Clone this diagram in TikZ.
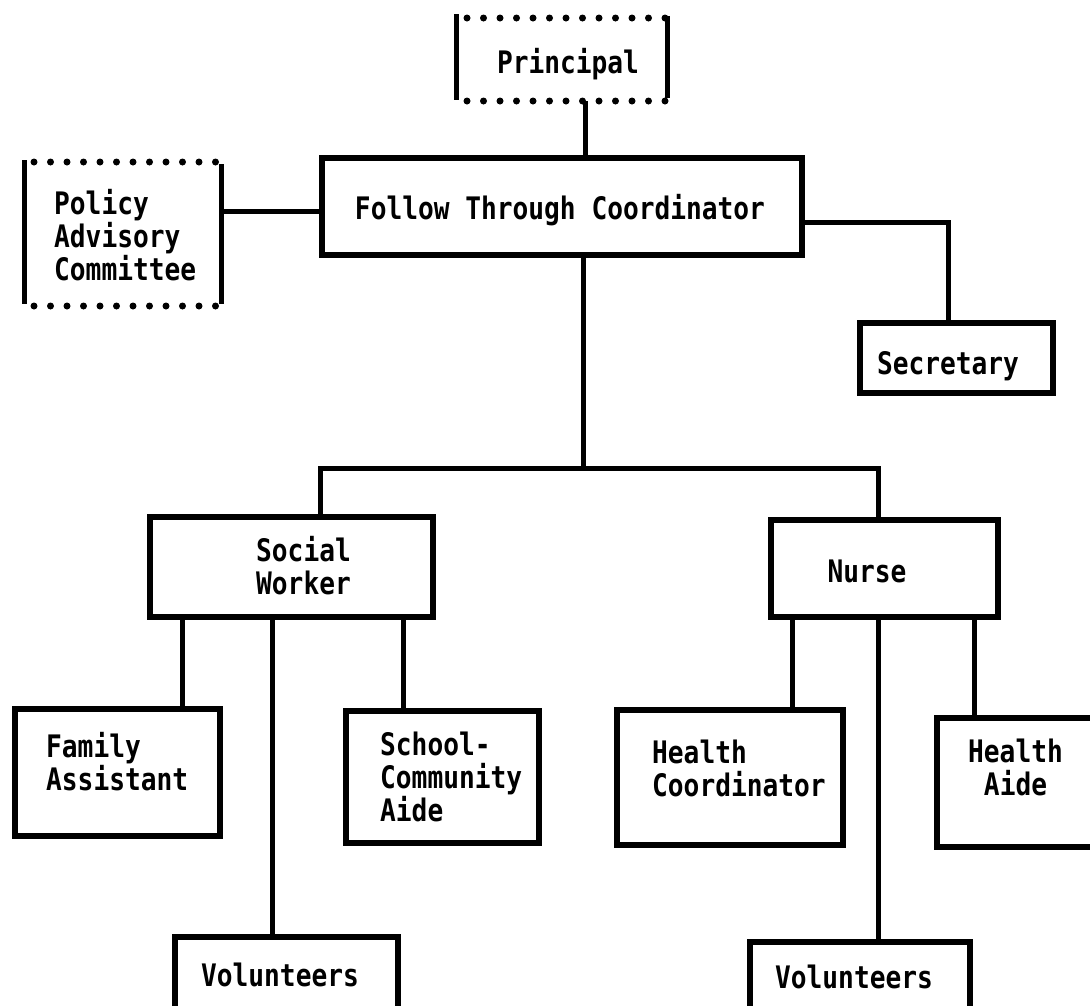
\documentclass[tikz,border=0pt]{standalone}
\usepackage{fontspec}
\newfontfamily\twfont{DejaVu Sans Mono}[FakeStretch=0.845]
\begin{document}
\begin{tikzpicture}[x=1pt,y=-1pt,
  conn/.style={line width=5pt},
  boxnode/.style={draw,line width=5.5pt,inner sep=0pt,minimum width=#1},
  dotbox/.style={inner sep=0pt,outer sep=0pt,minimum width=#1},
  sideline/.style={line width=5pt},
  dotrow/.style={line width=7pt,line cap=round,dash pattern=on 0pt off 16.5pt},
  lbl/.style={font=\twfont\bfseries\fontsize{31}{33}\selectfont,inner sep=0pt,align=left}]
\useasboundingbox (0,0) rectangle (1090,1005);
% dotted boxes
\node[dotbox=211pt,minimum height=83pt] (prin) at (561.5,59.5) {};
\draw[sideline] (prin.north west) ++(0,-4) -- ([yshift=1pt]prin.south west);
\draw[sideline] (prin.north east) ++(0,-2) -- ([yshift=3pt]prin.south east);
\draw[dotrow] ([xshift=11pt]prin.north west) -- (prin.north east);
\draw[dotrow] ([xshift=11pt]prin.south west) -- (prin.south east);
\node[lbl,anchor=base] (prinT) at (568,73) {Principal};

\node[dotbox=197pt,minimum height=144pt] (pac) at (122.5,234) {};
\draw[sideline] (pac.north west) ++(0,-2) -- ([yshift=2pt]pac.south west);
\draw[sideline] (pac.north east) ++(0,2) -- ([yshift=2pt]pac.south east);
\draw[dotrow] ([xshift=10pt]pac.north west) -- (pac.north east);
\draw[dotrow] ([xshift=10pt]pac.south west) -- (pac.south east);
\node[lbl,anchor=north west] (pacT) at (54,189) {Policy\\Advisory\\Committee};

% solid boxes
\node[boxnode=480pt,minimum height=97pt] (ftc) at (562,206.5) {};
\node[lbl,anchor=base] (ftcT) at (560,219) {Follow Through Coordinator};

\node[boxnode=193pt,minimum height=70pt] (sec) at (956.5,358) {};
\node[lbl,anchor=base] (secT) at (948,374) {Secretary};

\node[boxnode=283pt,minimum height=100pt] (sw) at (291.5,567) {};
\node[lbl,anchor=north west] (swT) at (256,536) {Social\\Worker};

\node[boxnode=227pt,minimum height=97pt] (nurse) at (884.5,568.5) {};
\node[lbl,anchor=base] (nurseT) at (867,582) {Nurse};

\node[boxnode=205pt,minimum height=127pt] (fa) at (117.5,772.5) {};
\node[lbl,anchor=north west] (faT) at (46,732) {Family\\Assistant};

\node[boxnode=193pt,minimum height=132pt] (sca) at (442.5,777) {};
\node[lbl,anchor=north west] (scaT) at (380,732) {School-\\Community\\Aide};

\node[boxnode=226pt,minimum height=135pt] (hc) at (730,777.5) {};
\node[lbl,anchor=north west] (hcT) at (652,740) {Health\\Coordinator};

\node[boxnode=166pt,minimum height=129pt] (ha) at (1020,782.5) {};
\node[lbl,anchor=north west] (haT) at (968,739) {Health\\\ Aide};

\node[boxnode=223pt,minimum height=73pt] (vl) at (286.5,973.5) {};
\node[lbl,anchor=base] (vlT) at (280,986) {Volunteers};

\node[boxnode=220pt,minimum height=73pt] (vr) at (860,978.5) {};
\node[lbl,anchor=base] (vrT) at (854,988) {Volunteers};

% connectors
\coordinate (bus) at (583,468);
\draw[conn] (prin.south -| 585,0) -- (ftc.north -| 585,0);
\draw[conn] (pac.east |- 0,211) -- (ftc.west |- 0,211);
\draw[conn] (ftc.east |- 0,222) -| (sec.north -| 948,0);
\draw[conn] (ftc.south -| bus) -- (bus);
\draw[conn] (sw.north -| 320,0) |- (bus) -| (nurse.north -| 878,0);
\draw[conn] (sw.south -| 182,0) -- (fa.north -| 182,0);
\draw[conn] (sw.south -| 272,0) -- (vl.north -| 272,0);
\draw[conn] (sw.south -| 403,0) -- (sca.north -| 403,0);
\draw[conn] (nurse.south -| 792,0) -- (hc.north -| 792,0);
\draw[conn] (nurse.south -| 878,0) -- (vr.north -| 878,0);
\draw[conn] (nurse.south -| 974,0) -- (ha.north -| 974,0);
\end{tikzpicture}
\end{document}
